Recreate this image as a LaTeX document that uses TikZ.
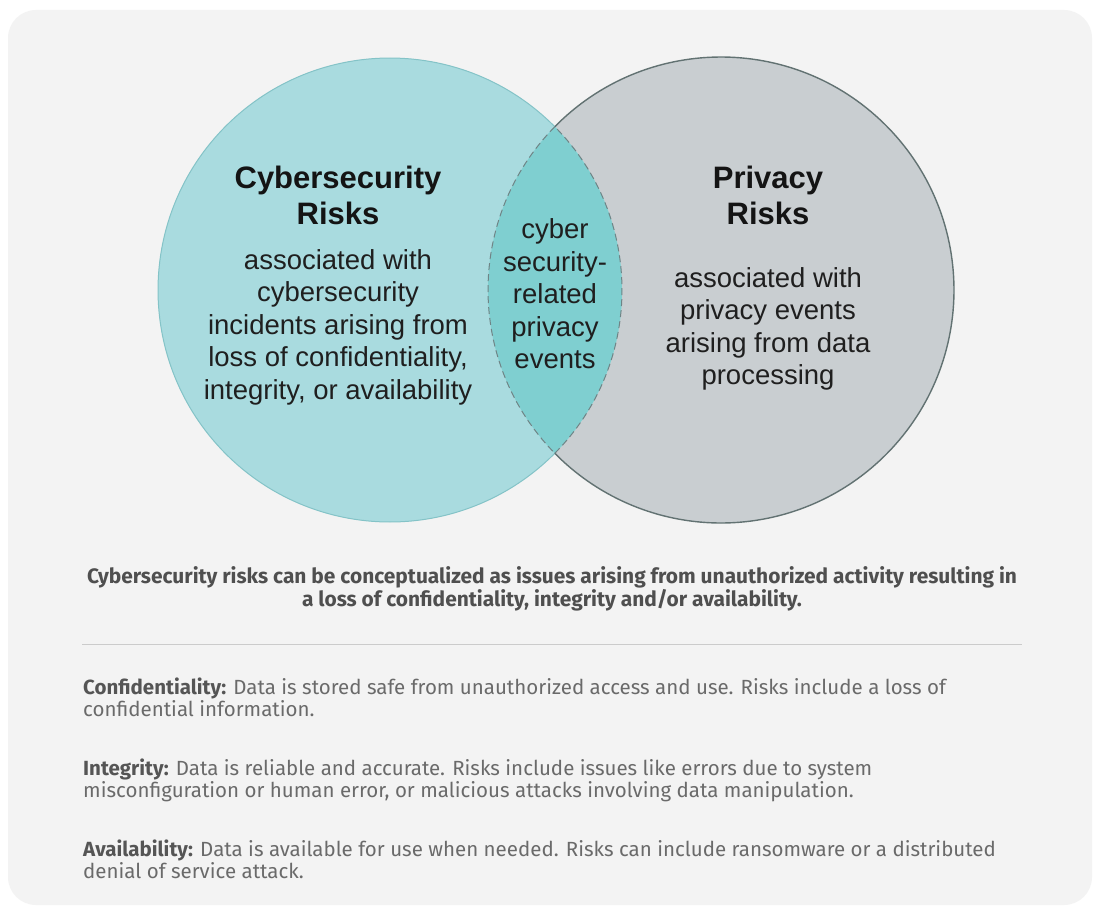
\documentclass[tikz,border=0pt]{standalone}
\usepackage{fontspec}
\newfontfamily\arialf{Liberation Sans}
\newfontfamily\dinf{Fira Sans}
\definecolor{panel}{HTML}{F3F3F3}
\definecolor{cyanfill}{HTML}{A9DBDF}
\definecolor{cyanedge}{HTML}{84C3C7}
\definecolor{lensfill}{HTML}{7FCFD0}
\definecolor{grayfill}{HTML}{C9CED1}
\definecolor{grayedge}{HTML}{627272}
\definecolor{dashedge}{HTML}{6F8486}
\definecolor{sumtext}{HTML}{4F4F4F}
\definecolor{bodytext}{HTML}{6A6A6A}
\definecolor{labtext}{HTML}{555555}
\definecolor{rulecol}{HTML}{CBCBCB}
\tikzset{
  titletext/.style={font=\arialf\bfseries\fontsize{31}{36}\selectfont, text=black!92, align=center, inner sep=0pt},
  bodytxt/.style={font=\arialf\fontsize{27.5}{32.5}\selectfont, text=black!88, align=center, inner sep=0pt},
  sumstyle/.style={font=\dinf\bfseries\fontsize{20.9}{22.5}\selectfont, text=sumtext, align=center, inner sep=0pt},
  parastyle/.style={font=\dinf\fontsize{20.5}{21.5}\selectfont, text=bodytext, align=left, inner sep=0pt, anchor=base west},
  dashline/.style={draw=dashedge, line width=1pt, dash pattern=on 7pt off 4pt}
}
\begin{document}
\begin{tikzpicture}[x=1pt,y=-1pt]
\useasboundingbox (0,0) rectangle (1094,907);
\fill[white] (0,0) rectangle (1094,907);
\fill[panel, rounded corners=28pt] (8,10) rectangle (1092,905);
% circles
\coordinate (cL) at (390,290);
\coordinate (cR) at (721,290);
\fill[grayfill] (cR) circle[radius=233pt];
\fill[cyanfill] (cL) circle[radius=232pt];
\begin{scope}
  \clip (cL) circle[radius=232pt];
  \fill[lensfill] (cR) circle[radius=233pt];
\end{scope}
% solid outer arcs
\draw[cyanedge, line width=1pt] ([shift={(44.74:232pt)}]cL) arc[start angle=44.74, end angle=315.26, radius=232pt];
\draw[grayedge, line width=1.4pt] ([shift={(135.5:233pt)}]cR) arc[start angle=135.5, end angle=-135.5, radius=233pt];
% dashed lens arcs
\draw[dashline] ([shift={(-44.74:232pt)}]cL) arc[start angle=-44.74, end angle=44.74, radius=232pt];
\draw[dashline] ([shift={(135.5:233pt)}]cR) arc[start angle=135.5, end angle=224.5, radius=233pt];
% circle texts
\node[titletext] (ltitle) at (338,195) {Cybersecurity\\Risks};
\node[bodytxt] (lbody) at (338,327) {associated with\\cybersecurity\\incidents arising from\\loss of confidentiality,\\integrity, or availability};
\node[bodytxt] (lens) at (555,294) {cyber\\security-\\related\\privacy\\events};
\node[titletext] (rtitle) at (768,195) {Privacy\\Risks};
\node[bodytxt] (rbody) at (768,329) {associated with\\privacy events\\arising from data\\processing};
% summary
\node[sumstyle] (summary) at (552,589) {Cybersecurity risks can be conceptualized as issues arising from unauthorized activity resulting in\\a loss of confidentiality, integrity and/or availability.};
\coordinate (ruleA) at (82,644);
\coordinate (ruleB) at (1022,644);
\draw[rulecol, line width=1pt] (ruleA) -- (ruleB);
% paragraphs (anchor = baseline of last line)
\node[parastyle] (conf) at (83,716) {{\bfseries\color{labtext}Confidentiality:} Data is stored safe from unauthorized access and use. Risks include a loss of\\confidential information.};
\node[parastyle] (integ) at (83,797) {{\bfseries\color{labtext}Integrity:} Data is reliable and accurate. Risks include issues like errors due to system\\misconfiguration or human error, or malicious attacks involving data manipulation.};
\node[parastyle] (avail) at (83,878) {{\bfseries\color{labtext}Availability:} Data is available for use when needed. Risks can include ransomware or a distributed\\denial of service attack.};
\end{tikzpicture}
\end{document}
